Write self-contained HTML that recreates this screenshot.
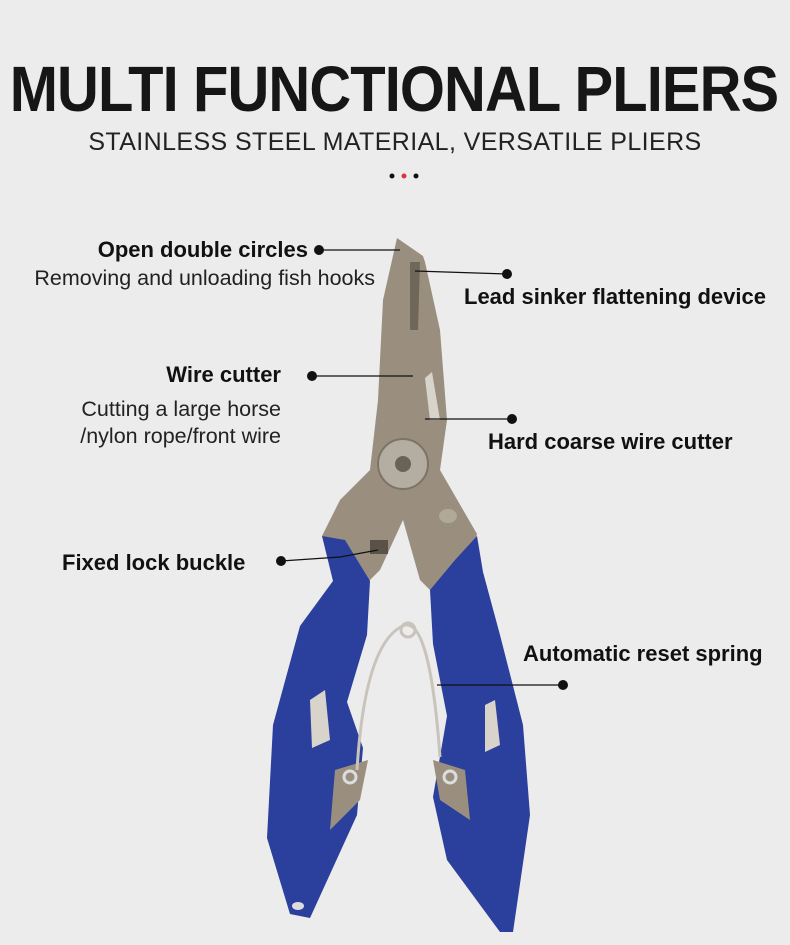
<!DOCTYPE html>
<html><head><meta charset="utf-8"><style>
body{margin:0;width:790px;height:945px;background:#ececec;overflow:hidden;font-family:"Liberation Sans",sans-serif;position:relative}
.t{position:absolute;white-space:nowrap;color:#111}
.b{font-weight:bold;font-size:22px}
.r{font-size:21.5px;color:#222}
</style></head><body>
<div class="t" style="left:394px;top:52px;font-size:64px;font-weight:bold;letter-spacing:-1px;color:#161616;transform:translateX(-50%) scaleX(0.905)">MULTI FUNCTIONAL PLIERS</div>
<div class="t" style="left:0;width:790px;text-align:center;top:128px;font-size:25px;color:#222;letter-spacing:0.4px">STAINLESS STEEL MATERIAL, VERSATILE PLIERS</div>
<div class="t b" style="right:482px;top:237px">Open double circles</div>
<div class="t r" style="right:415px;top:266px">Removing and unloading fish hooks</div>
<div class="t b" style="left:464px;top:284px">Lead sinker flattening device</div>
<div class="t b" style="right:509px;top:362px">Wire cutter</div>
<div class="t r" style="right:509px;top:397px">Cutting a large horse</div>
<div class="t r" style="right:509px;top:424px">/nylon rope/front wire</div>
<div class="t b" style="left:488px;top:429px">Hard coarse wire cutter</div>
<div class="t b" style="left:62px;top:550px">Fixed lock buckle</div>
<div class="t b" style="left:523px;top:641px">Automatic reset spring</div>
<svg width="790" height="945" style="position:absolute;left:0;top:0">
<circle cx="392" cy="176" r="2.5" fill="#111"/><circle cx="404" cy="176" r="2.5" fill="#d33"/><circle cx="416" cy="176" r="2.5" fill="#111"/>
<path d="M397,238 L423,256 L425,262 L440,330 L447,420 L440,470 L477,534 L470,560 L440,600 L420,580 L403,520 L380,570 L360,590 L340,560 L322,536 L340,500 L370,470 L378,400 L383,300 Z" fill="#9a8f7e"/>
<path d="M410,262 L420,262 L418,330 L410,330 Z" fill="#6f675a"/>
<path d="M425,378 L432,372 L440,420 L430,420 Z" fill="#d8d4cc"/>
<circle cx="403" cy="464" r="25" fill="#b4ada2" stroke="#7d7467" stroke-width="2"/>
<circle cx="403" cy="464" r="8" fill="#6a6256"/>
<ellipse cx="448" cy="516" rx="9" ry="7" fill="#b0a898"/>
<rect x="370" y="540" width="18" height="14" fill="#5a5248"/>
<path d="M322,536 L333,581 L300,626 L273,725 L267,838 L290,914 L310,918 L357,815 L363,748 L347,702 L367,635 L370,581 L345,540 Z" fill="#2b3f9c"/>
<path d="M310,700 L325,690 L330,740 L312,748 Z" fill="#d8d4cc"/>
<path d="M335,770 L368,760 L360,800 L330,830 Z" fill="#9a8f7e"/>
<ellipse cx="298" cy="906" rx="6" ry="4" fill="#ddd"/>
<path d="M477,536 L483,572 L500,635 L523,725 L530,815 L513,932 L500,932 L447,860 L433,797 L447,716 L433,644 L430,590 L455,560 Z" fill="#2b3f9c"/>
<path d="M485,705 L495,700 L500,745 L485,752 Z" fill="#d8d4cc"/>
<path d="M433,760 L465,770 L470,820 L440,800 Z" fill="#9a8f7e"/>
<path d="M357,770 Q365,640 405,625 Q430,620 440,757" fill="none" stroke="#c9c4bb" stroke-width="3"/>
<circle cx="408" cy="630" r="7" fill="none" stroke="#c9c4bb" stroke-width="3"/>
<circle cx="350" cy="777" r="6" fill="none" stroke="#ddd" stroke-width="3"/>
<circle cx="450" cy="777" r="6" fill="none" stroke="#ddd" stroke-width="3"/>
<g stroke="#111" stroke-width="1.2" fill="none">
<line x1="319" y1="250" x2="400" y2="250"/>
<line x1="415" y1="271" x2="507" y2="274"/>
<line x1="312" y1="376" x2="413" y2="376"/>
<line x1="425" y1="419" x2="512" y2="419"/>
<polyline points="281,561 340,557 378,550"/>
<line x1="437" y1="685" x2="563" y2="685"/>
</g>
<g fill="#111"><circle cx="319" cy="250" r="5"/><circle cx="507" cy="274" r="5"/><circle cx="312" cy="376" r="5"/><circle cx="512" cy="419" r="5"/><circle cx="281" cy="561" r="5"/><circle cx="563" cy="685" r="5"/></g>
</svg>
</body></html>
